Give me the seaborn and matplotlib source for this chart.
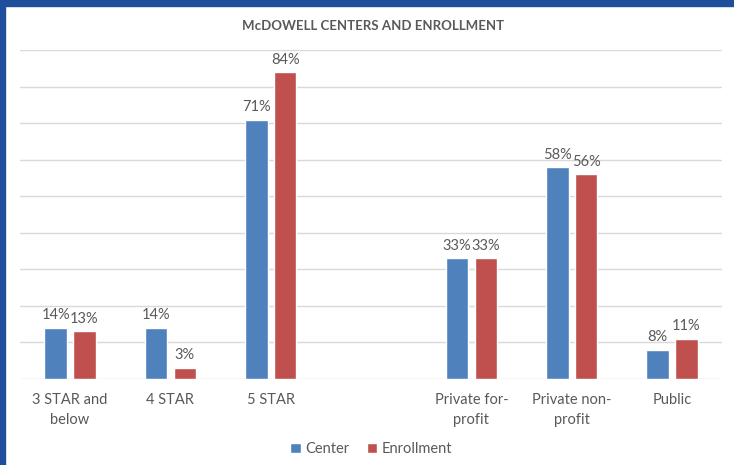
import matplotlib
matplotlib.use("Agg")
import matplotlib.pyplot as plt
from matplotlib.patches import Rectangle
import seaborn as sns
import pandas as pd

categories = ["3 STAR and\nbelow", "4 STAR", "5 STAR", " ", "Private for-\nprofit", "Private non-\nprofit", "Public"]
data_categories = ["3 STAR and\nbelow", "4 STAR", "5 STAR", "Private for-\nprofit", "Private non-\nprofit", "Public"]
center_values = [14, 14, 71, 33, 58, 8]
enrollment_values = [13, 3, 84, 33, 56, 11]
series_names = ["Center", "Enrollment"]
title = "McDOWELL CENTERS AND ENROLLMENT"

df = pd.DataFrame({
    "category": data_categories * 2,
    "value": center_values + enrollment_values,
    "series": [series_names[0]] * len(data_categories) + [series_names[1]] * len(data_categories),
})

sns.set_theme(style="white")
plt.rcParams['font.family'] = ['Lato', 'DejaVu Sans']
text_color = "#595959"

fig = plt.figure(figsize=(7.34, 4.65), dpi=100)
ax = fig.add_axes([0.027, 0.185, 0.957, 0.707])

sns.barplot(data=df, x="category", y="value", hue="series", order=categories,
            hue_order=series_names, palette=["#4F81BD", "#C0504D"],
            width=0.575, gap=0.22, ax=ax, legend=True, saturation=1)

ax.set_ylim(0, 90)
ax.set_xlim(-0.5, len(categories) - 0.5)
ax.set_yticks(range(0, 91, 10))
ax.yaxis.grid(True, color="#D9D9D9", linewidth=1)
ax.set_axisbelow(True)
ax.tick_params(axis="y", left=False, labelleft=False)
ax.tick_params(axis="x", bottom=False, labelsize=10.5, labelcolor=text_color, pad=4)
for lbl in ax.get_xticklabels():
    lbl.set_linespacing(1.55)
for s in ax.spines.values():
    s.set_visible(False)
ax.set_xlabel("")
ax.set_ylabel("")

for cont in ax.containers:
    ax.bar_label(cont, labels=[f"{v:.0f}%" for v in cont.datavalues], padding=4,
                 fontsize=10.5, color=text_color)

leg = ax.legend(loc="upper center", bbox_to_anchor=(0.5, -0.152), ncol=2, frameon=False,
                fontsize=10.5, handlelength=0.7, handleheight=0.7, handletextpad=0.3,
                columnspacing=1.2, labelcolor=text_color)

fig.text(0.508, 0.945, title, ha="center", va="center", fontsize=9.5,
         fontweight="bold", color=text_color)

border = "#1F4E9C"
fig.patches.append(Rectangle((0, 0), 0.007, 1, transform=fig.transFigure, color=border, zorder=10))
fig.patches.append(Rectangle((0, 0.988), 1, 0.012, transform=fig.transFigure, color=border, zorder=10))

fig.savefig("out.png", dpi=100)
